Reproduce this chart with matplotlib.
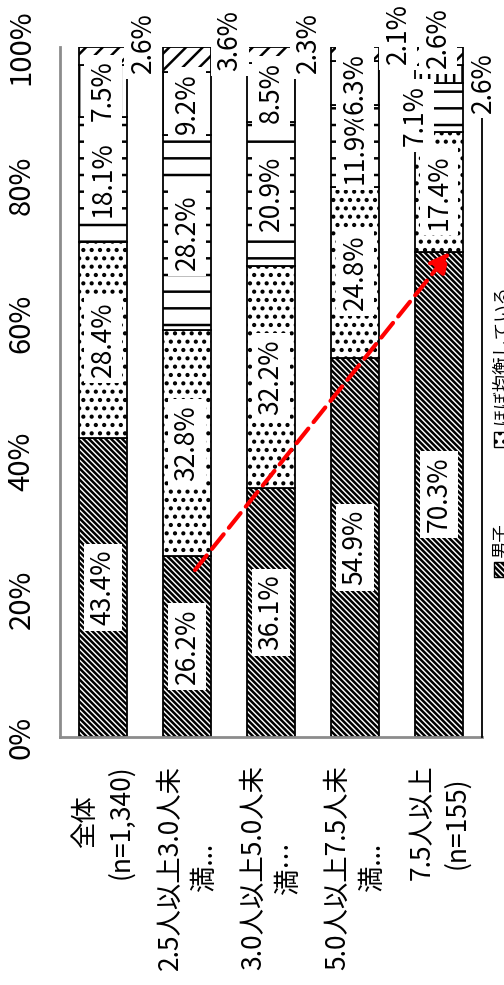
import matplotlib
matplotlib.use("Agg")
import matplotlib.pyplot as plt
from matplotlib.patches import Rectangle

plt.rcParams["font.family"] = ["Noto Sans CJK JP", "DejaVu Sans"]
plt.rcParams["hatch.linewidth"] = 1.8
plt.rcParams["hatch.color"] = "black"

# ---- data -------------------------------------------------------------
categories = [
    "全体\n(n=1,340)",
    "2.5人以上3.0人未\n満...",
    "3.0人以上5.0人未\n満…",
    "5.0人以上7.5人未\n満...",
    "7.5人以上\n(n=155)",
]
s1 = [43.4, 26.2, 36.1, 54.9, 70.3]
s2 = [28.4, 32.8, 32.2, 24.8, 17.4]
s3 = [18.1, 28.2, 20.9, 11.9, 7.1]
s4 = [7.5, 9.2, 8.5, 6.3, 2.6]
s5 = [2.6, 3.6, 2.3, 2.1, 2.6]
series = [s1, s2, s3, s4, s5]
legend_labels = ["男子", "ほぼ均衡している"]
yticks = [0, 20, 40, 60, 80, 100]

# ---- styling ----------------------------------------------------------
hatches = ["\\\\\\\\\\\\", "..", "-", "||", "//"]
# labels of thin segments sit beside the bar: (series, bar) -> (x offset, y)
outside = {
    (4, 0): (0.476, 100.6),
    (4, 1): (0.512, 101.0),
    (4, 2): (0.452, 100.6),
    (4, 3): (0.512, 101.9),
    (3, 4): (-0.01, 101.4),
    (4, 4): (0.524, 94.9),
    (2, 4): (-0.286, 90.1),
}

W, H = 504, 985
fig = plt.figure(figsize=(W / 100, H / 100), dpi=100)
ax = fig.add_axes([60 / W, 1 - 737 / H, 422 / W, 690 / H])

x = list(range(len(categories)))
bar_w = 0.571
bottom = [0.0] * len(categories)
for si, vals in enumerate(series):
    ax.bar(x, vals, bottom=bottom, width=bar_w, color="white",
           edgecolor="black", linewidth=1.3, hatch=hatches[si], zorder=2)
    for bi, v in enumerate(vals):
        if (si, bi) in outside:
            dx, ty = outside[(si, bi)]
            tx = bi + dx
        else:
            tx, ty = bi, bottom[bi] + v / 2
        ax.text(tx, ty, f"{v:.1f}%", rotation=90, ha="center", va="center",
                fontsize=19, zorder=5, clip_on=False,
                bbox=dict(boxstyle="square,pad=0.22", fc="white", ec="none"))
    bottom = [b + v for b, v in zip(bottom, vals)]

ax.set_xlim(-0.512, 4.512)
ax.set_ylim(0, 100)
ax.set_yticks(yticks)
ax.set_yticklabels([f"{t}%" for t in yticks], rotation=90, va="center")
ax.set_xticks(x)
ax.set_xticklabels(categories, rotation=90, ha="center", va="top",
                   multialignment="center", linespacing=1.35, fontsize=19)
ax.tick_params(axis="y", length=0, pad=17, labelsize=21)
ax.tick_params(axis="x", length=0, pad=20)

for side in ("top", "right"):
    ax.spines[side].set_visible(False)
for side in ("left", "bottom"):
    ax.spines[side].set_color("#8c8c8c")
    ax.spines[side].set_linewidth(2)
ax.plot([1, 1], [0, 0.897], transform=ax.transAxes, color="black",
        lw=1.3, clip_on=False, zorder=3)

# trend arrow across the first series
ax.annotate("", xy=(4.13, 70.3), xytext=(1.095, 24.2),
            arrowprops=dict(arrowstyle="-|>", color="#ff0000", lw=3,
                            linestyle=(0, (4.5, 2)), mutation_scale=30,
                            shrinkA=0, shrinkB=0), zorder=6)

# legend row along the right edge
legend_items = [(562, 558), (432, 424)]
for (box_top, text_base), lab, h in zip(legend_items, legend_labels, hatches):
    fig.add_artist(Rectangle((494 / W, 1 - (box_top + 15) / H), 15 / W, 15 / H,
                             transform=fig.transFigure, facecolor="white",
                             edgecolor="black", linewidth=1.0, hatch=h))
    fig.text(501 / W, 1 - text_base / H, lab, rotation=90, ha="center",
             va="bottom", fontsize=12.5)

fig.savefig("out.png", dpi=100)
